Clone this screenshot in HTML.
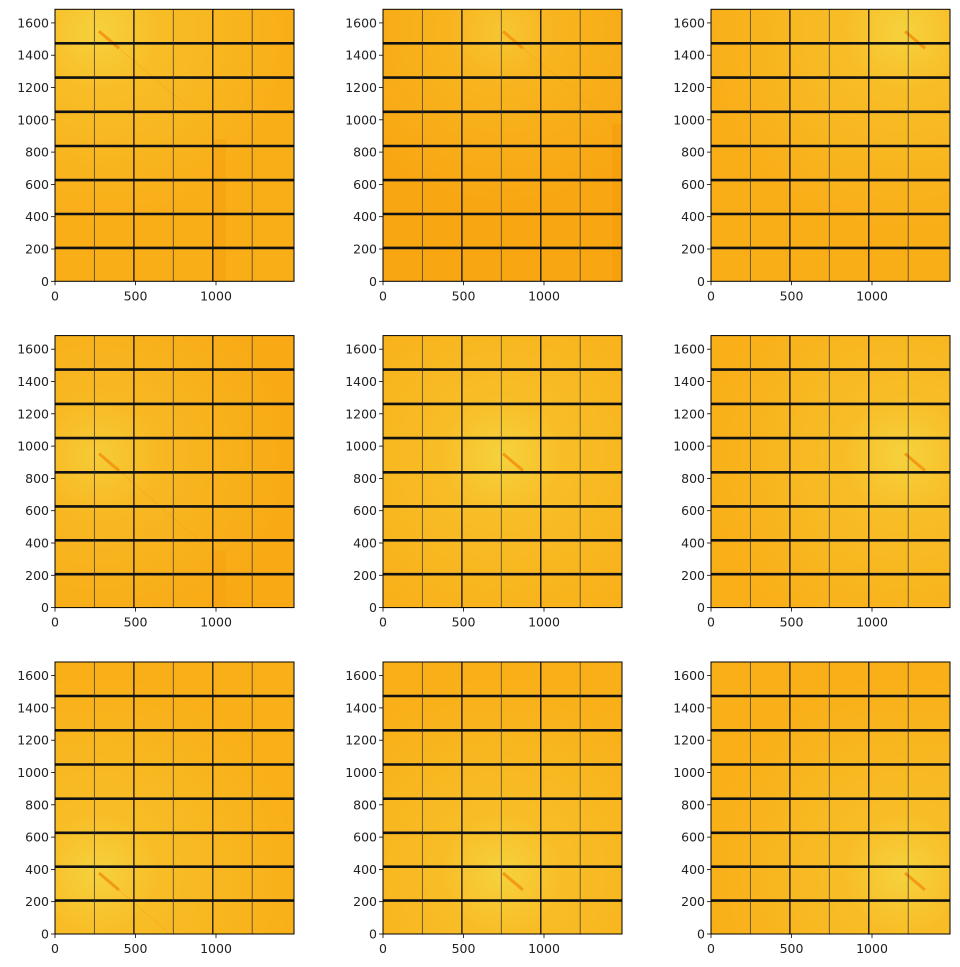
<!DOCTYPE html>
<html><head><meta charset="utf-8"><style>
html,body{margin:0;padding:0;background:#fff;width:960px;height:967px;overflow:hidden}
text{font-family:"DejaVu Sans","Liberation Sans",sans-serif;font-size:12.5px;fill:#222}
</style></head><body>
<svg width="960" height="967" viewBox="0 0 960 967" xmlns="http://www.w3.org/2000/svg">
<defs>
<radialGradient id="g11" gradientUnits="userSpaceOnUse" cx="43" cy="22" r="200"><stop offset="0" stop-color="#f6d23e"/><stop offset="0.3" stop-color="#f8bd26"/><stop offset="1" stop-color="#f9ad17"/></radialGradient>
<radialGradient id="g12" gradientUnits="userSpaceOnUse" cx="119" cy="22" r="180"><stop offset="0" stop-color="#f7c633"/><stop offset="0.3" stop-color="#f8b41e"/><stop offset="1" stop-color="#f8a612"/></radialGradient>
<radialGradient id="g13" gradientUnits="userSpaceOnUse" cx="193" cy="22" r="200"><stop offset="0" stop-color="#f6d23e"/><stop offset="0.3" stop-color="#f8bd26"/><stop offset="1" stop-color="#f9ae18"/></radialGradient>
<radialGradient id="g21" gradientUnits="userSpaceOnUse" cx="43" cy="120" r="200"><stop offset="0" stop-color="#f6cc38"/><stop offset="0.3" stop-color="#f8b822"/><stop offset="1" stop-color="#f8a914"/></radialGradient>
<radialGradient id="g22" gradientUnits="userSpaceOnUse" cx="119" cy="120" r="200"><stop offset="0" stop-color="#f6d23e"/><stop offset="0.3" stop-color="#f8bd26"/><stop offset="1" stop-color="#f9af18"/></radialGradient>
<radialGradient id="g23" gradientUnits="userSpaceOnUse" cx="193" cy="120" r="200"><stop offset="0" stop-color="#f6d23e"/><stop offset="0.3" stop-color="#f8bd26"/><stop offset="1" stop-color="#f9af18"/></radialGradient>
<radialGradient id="g31" gradientUnits="userSpaceOnUse" cx="43" cy="212" r="200"><stop offset="0" stop-color="#f6d23e"/><stop offset="0.3" stop-color="#f8bd26"/><stop offset="1" stop-color="#f9af18"/></radialGradient>
<radialGradient id="g32" gradientUnits="userSpaceOnUse" cx="119" cy="212" r="200"><stop offset="0" stop-color="#f6d23e"/><stop offset="0.3" stop-color="#f8bd26"/><stop offset="1" stop-color="#f9af18"/></radialGradient>
<radialGradient id="g33" gradientUnits="userSpaceOnUse" cx="193" cy="212" r="200"><stop offset="0" stop-color="#f6d23e"/><stop offset="0.3" stop-color="#f8bd26"/><stop offset="1" stop-color="#f9af18"/></radialGradient>
<g id="grid">
<g stroke="#111" stroke-width="2.6">
<line x1="0" y1="238.6" x2="239" y2="238.6"/><line x1="0" y1="204.7" x2="239" y2="204.7"/><line x1="0" y1="170.8" x2="239" y2="170.8"/><line x1="0" y1="136.7" x2="239" y2="136.7"/><line x1="0" y1="102.5" x2="239" y2="102.5"/><line x1="0" y1="68.3" x2="239" y2="68.3"/><line x1="0" y1="34" x2="239" y2="34"/>
</g>
<g stroke="#333" stroke-width="0.9" opacity="0.8">
<line x1="39.4" y1="0" x2="39.4" y2="272"/><line x1="118.3" y1="0" x2="118.3" y2="272"/><line x1="197.2" y1="0" x2="197.2" y2="272"/>
</g>
<g stroke="#111" stroke-width="1.3">
<line x1="78.9" y1="0" x2="78.9" y2="272"/><line x1="157.8" y1="0" x2="157.8" y2="272"/>
</g>
<rect x="0" y="0" width="239" height="272" fill="none" stroke="#000" stroke-width="1"/>
<g stroke="#000" stroke-width="0.8">
<line x1="0" y1="272" x2="0" y2="276"/><line x1="80.5" y1="272" x2="80.5" y2="276"/><line x1="161" y1="272" x2="161" y2="276"/>
<line x1="0" y1="272" x2="-4" y2="272"/><line x1="0" y1="239.7" x2="-4" y2="239.7"/><line x1="0" y1="207.4" x2="-4" y2="207.4"/><line x1="0" y1="175.1" x2="-4" y2="175.1"/><line x1="0" y1="142.8" x2="-4" y2="142.8"/><line x1="0" y1="110.5" x2="-4" y2="110.5"/><line x1="0" y1="78.2" x2="-4" y2="78.2"/><line x1="0" y1="45.9" x2="-4" y2="45.9"/><line x1="0" y1="13.6" x2="-4" y2="13.6"/>
</g>
</g>
</defs>
<g transform="translate(55,9.3)"><rect width="239" height="272" fill="url(#g11)"/><rect x="157" y="130" width="14" height="142" fill="#f5a010" opacity="0.5"/><line x1="44" y1="22" x2="64" y2="39" stroke="#f39a12" stroke-width="3"/><line x1="64" y1="39" x2="130" y2="95" stroke="#f3a018" stroke-width="1" opacity="0.4"/><use href="#grid"/></g>
<g transform="translate(383,9.3)"><rect width="239" height="272" fill="url(#g12)"/><rect x="229" y="115" width="10" height="157" fill="#f59c0c" opacity="0.6"/><line x1="120" y1="22" x2="140" y2="39" stroke="#f39a12" stroke-width="3"/><line x1="140" y1="39" x2="230" y2="115" stroke="#f3a018" stroke-width="1" opacity="0.4"/><use href="#grid"/></g>
<g transform="translate(711,9.3)"><rect width="239" height="272" fill="url(#g13)"/><line x1="194" y1="22" x2="214" y2="39" stroke="#f39a12" stroke-width="3"/><use href="#grid"/></g>
<g transform="translate(55,335.6)"><rect width="239" height="272" fill="url(#g21)"/><rect x="157" y="215" width="14" height="57" fill="#f5a010" opacity="0.5"/><line x1="44" y1="118" x2="64" y2="135" stroke="#f39a12" stroke-width="3"/><line x1="64" y1="135" x2="150" y2="210" stroke="#f3a018" stroke-width="1" opacity="0.4"/><use href="#grid"/></g>
<g transform="translate(383,335.6)"><rect width="239" height="272" fill="url(#g22)"/><line x1="120" y1="118" x2="140" y2="135" stroke="#f39a12" stroke-width="3"/><use href="#grid"/></g>
<g transform="translate(711,335.6)"><rect width="239" height="272" fill="url(#g23)"/><line x1="194" y1="118" x2="214" y2="135" stroke="#f39a12" stroke-width="3"/><use href="#grid"/></g>
<g transform="translate(55,662)"><rect width="239" height="272" fill="url(#g31)"/><line x1="44" y1="211" x2="64" y2="228" stroke="#f39a12" stroke-width="3"/><line x1="64" y1="228" x2="115" y2="272" stroke="#f3a018" stroke-width="1" opacity="0.4"/><use href="#grid"/></g>
<g transform="translate(383,662)"><rect width="239" height="272" fill="url(#g32)"/><line x1="120" y1="211" x2="140" y2="228" stroke="#f39a12" stroke-width="3"/><use href="#grid"/></g>
<g transform="translate(711,662)"><rect width="239" height="272" fill="url(#g33)"/><line x1="194" y1="211" x2="214" y2="228" stroke="#f39a12" stroke-width="3"/><use href="#grid"/></g>
<g transform="translate(55,9.3)"><g text-anchor="end"><text x="-6" y="276.5">0</text><text x="-6" y="244.2">200</text><text x="-6" y="211.9">400</text><text x="-6" y="179.6">600</text><text x="-6" y="147.3">800</text><text x="-6" y="115">1000</text><text x="-6" y="82.7">1200</text><text x="-6" y="50.4">1400</text><text x="-6" y="18.1">1600</text></g><g text-anchor="middle"><text x="0" y="291">0</text><text x="80.5" y="291">500</text><text x="161" y="291">1000</text></g></g>
<g transform="translate(383,9.3)"><g text-anchor="end"><text x="-6" y="276.5">0</text><text x="-6" y="244.2">200</text><text x="-6" y="211.9">400</text><text x="-6" y="179.6">600</text><text x="-6" y="147.3">800</text><text x="-6" y="115">1000</text><text x="-6" y="82.7">1200</text><text x="-6" y="50.4">1400</text><text x="-6" y="18.1">1600</text></g><g text-anchor="middle"><text x="0" y="291">0</text><text x="80.5" y="291">500</text><text x="161" y="291">1000</text></g></g>
<g transform="translate(711,9.3)"><g text-anchor="end"><text x="-6" y="276.5">0</text><text x="-6" y="244.2">200</text><text x="-6" y="211.9">400</text><text x="-6" y="179.6">600</text><text x="-6" y="147.3">800</text><text x="-6" y="115">1000</text><text x="-6" y="82.7">1200</text><text x="-6" y="50.4">1400</text><text x="-6" y="18.1">1600</text></g><g text-anchor="middle"><text x="0" y="291">0</text><text x="80.5" y="291">500</text><text x="161" y="291">1000</text></g></g>
<g transform="translate(55,335.6)"><g text-anchor="end"><text x="-6" y="276.5">0</text><text x="-6" y="244.2">200</text><text x="-6" y="211.9">400</text><text x="-6" y="179.6">600</text><text x="-6" y="147.3">800</text><text x="-6" y="115">1000</text><text x="-6" y="82.7">1200</text><text x="-6" y="50.4">1400</text><text x="-6" y="18.1">1600</text></g><g text-anchor="middle"><text x="0" y="291">0</text><text x="80.5" y="291">500</text><text x="161" y="291">1000</text></g></g>
<g transform="translate(383,335.6)"><g text-anchor="end"><text x="-6" y="276.5">0</text><text x="-6" y="244.2">200</text><text x="-6" y="211.9">400</text><text x="-6" y="179.6">600</text><text x="-6" y="147.3">800</text><text x="-6" y="115">1000</text><text x="-6" y="82.7">1200</text><text x="-6" y="50.4">1400</text><text x="-6" y="18.1">1600</text></g><g text-anchor="middle"><text x="0" y="291">0</text><text x="80.5" y="291">500</text><text x="161" y="291">1000</text></g></g>
<g transform="translate(711,335.6)"><g text-anchor="end"><text x="-6" y="276.5">0</text><text x="-6" y="244.2">200</text><text x="-6" y="211.9">400</text><text x="-6" y="179.6">600</text><text x="-6" y="147.3">800</text><text x="-6" y="115">1000</text><text x="-6" y="82.7">1200</text><text x="-6" y="50.4">1400</text><text x="-6" y="18.1">1600</text></g><g text-anchor="middle"><text x="0" y="291">0</text><text x="80.5" y="291">500</text><text x="161" y="291">1000</text></g></g>
<g transform="translate(55,662)"><g text-anchor="end"><text x="-6" y="276.5">0</text><text x="-6" y="244.2">200</text><text x="-6" y="211.9">400</text><text x="-6" y="179.6">600</text><text x="-6" y="147.3">800</text><text x="-6" y="115">1000</text><text x="-6" y="82.7">1200</text><text x="-6" y="50.4">1400</text><text x="-6" y="18.1">1600</text></g><g text-anchor="middle"><text x="0" y="291">0</text><text x="80.5" y="291">500</text><text x="161" y="291">1000</text></g></g>
<g transform="translate(383,662)"><g text-anchor="end"><text x="-6" y="276.5">0</text><text x="-6" y="244.2">200</text><text x="-6" y="211.9">400</text><text x="-6" y="179.6">600</text><text x="-6" y="147.3">800</text><text x="-6" y="115">1000</text><text x="-6" y="82.7">1200</text><text x="-6" y="50.4">1400</text><text x="-6" y="18.1">1600</text></g><g text-anchor="middle"><text x="0" y="291">0</text><text x="80.5" y="291">500</text><text x="161" y="291">1000</text></g></g>
<g transform="translate(711,662)"><g text-anchor="end"><text x="-6" y="276.5">0</text><text x="-6" y="244.2">200</text><text x="-6" y="211.9">400</text><text x="-6" y="179.6">600</text><text x="-6" y="147.3">800</text><text x="-6" y="115">1000</text><text x="-6" y="82.7">1200</text><text x="-6" y="50.4">1400</text><text x="-6" y="18.1">1600</text></g><g text-anchor="middle"><text x="0" y="291">0</text><text x="80.5" y="291">500</text><text x="161" y="291">1000</text></g></g>
</svg>
</body></html>
